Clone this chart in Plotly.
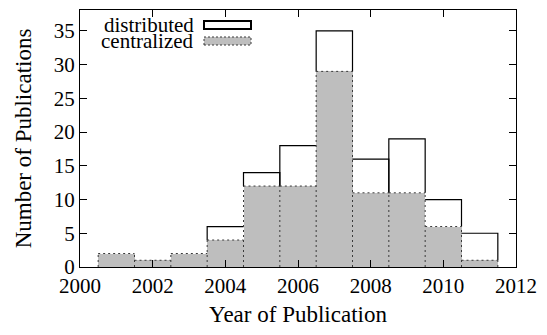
import plotly.graph_objects as go

years = [2001, 2002, 2003, 2004, 2005, 2006, 2007, 2008, 2009, 2010, 2011]
distributed = [2, 1, 2, 6, 14, 18, 35, 16, 19, 10, 5]
centralized = [2, 1, 2, 4, 12, 12, 29, 11, 11, 6, 1]
x_ticks = [2000, 2002, 2004, 2006, 2008, 2010, 2012]
y_ticks = [0, 5, 10, 15, 20, 25, 30, 35]

FONT = "'Liberation Serif', 'Times New Roman', Tinos, 'DejaVu Serif', serif"
GRAY = "#bebebe"
DOT = "#3a3a3a"
W = 1.0

fig = go.Figure()
fig.add_trace(go.Bar(x=years, y=distributed, width=W, marker=dict(color="white", line=dict(width=0)),
                     showlegend=False, hoverinfo="skip"))
fig.add_trace(go.Bar(x=years, y=centralized, width=W, marker=dict(color=GRAY, line=dict(width=0)),
                     showlegend=False, hoverinfo="skip"))

n = len(years)
# solid outline for visible parts of distributed bars
sx, sy = [], []
for i in range(n):
    d, c = distributed[i], centralized[i]
    if d <= c:
        continue
    x0, x1 = years[i] - W / 2, years[i] + W / 2
    cl = max(c, centralized[i - 1] if i > 0 else 0)
    cr = max(c, centralized[i + 1] if i < n - 1 else 0)
    sx += [x0, x0, x1, x1, None]
    sy += [min(cl, d), d, d, min(cr, d), None]
fig.add_trace(go.Scatter(x=sx, y=sy, mode="lines", line=dict(color="black", width=1.2),
                         showlegend=False, hoverinfo="skip"))

# dotted outline for centralized bars
dx, dy = [], []
for i in range(n):
    x0, x1 = years[i] - W / 2, years[i] + W / 2
    dx += [x0, x1, None]
    dy += [centralized[i], centralized[i], None]
for i in range(n + 1):
    left = centralized[i - 1] if i > 0 else 0
    right = centralized[i] if i < n else 0
    xb = (years[i] - W / 2) if i < n else (years[-1] + W / 2)
    dx += [xb, xb, None]
    dy += [0, max(left, right), None]
fig.add_trace(go.Scatter(x=dx, y=dy, mode="lines", line=dict(color=DOT, width=1, dash="2px,3px"),
                         showlegend=False, hoverinfo="skip"))

# legend (drawn manually: text right-aligned, key box on the right)
L, R, T, B = 80, 516, 10, 267
def px(x):
    return (x - L) / (R - L)
def py(y):
    return (B - y) / (B - T)

for label, yc in [("distributed", 25), ("centralized", 41)]:
    fig.add_annotation(x=px(196), y=py(yc), xref="paper", yref="paper", text=label,
                       showarrow=False, xanchor="right", yanchor="middle", height=16,
                       font=dict(family=FONT, size=21, color="black"))
fig.add_shape(type="rect", xref="paper", yref="paper", x0=px(204), x1=px(251), y0=py(29), y1=py(21),
              fillcolor="white", line=dict(color="black", width=2))
fig.add_shape(type="rect", xref="paper", yref="paper", x0=px(204), x1=px(251), y0=py(45), y1=py(37),
              fillcolor=GRAY, line=dict(color=DOT, width=1, dash="2px,2px"))

axis_common = dict(showline=True, linecolor="black", linewidth=1, mirror="ticks", ticks="inside",
                   ticklen=7, tickcolor="black", tickwidth=1, showgrid=False, zeroline=False,
                   tickfont=dict(family=FONT, size=21, color="black"))
fig.update_xaxes(range=[2000, 2012], tickvals=x_ticks, ticktext=[str(v) for v in x_ticks],
                 title=dict(text="Year of Publication", font=dict(family=FONT, size=23, color="black"),
                            standoff=8),
                 **axis_common)
fig.update_yaxes(range=[0, 38.1], tickvals=y_ticks, ticktext=[str(v) for v in y_ticks],
                 title=dict(text="Number of Publications", font=dict(family=FONT, size=23, color="black"),
                            standoff=15),
                 **axis_common)
fig.update_layout(width=547, height=335, margin=dict(l=L, r=547 - R, t=T, b=335 - B),
                  paper_bgcolor="white", plot_bgcolor="white", barmode="overlay", bargap=0,
                  font=dict(family=FONT))
fig.write_html("out.html")
